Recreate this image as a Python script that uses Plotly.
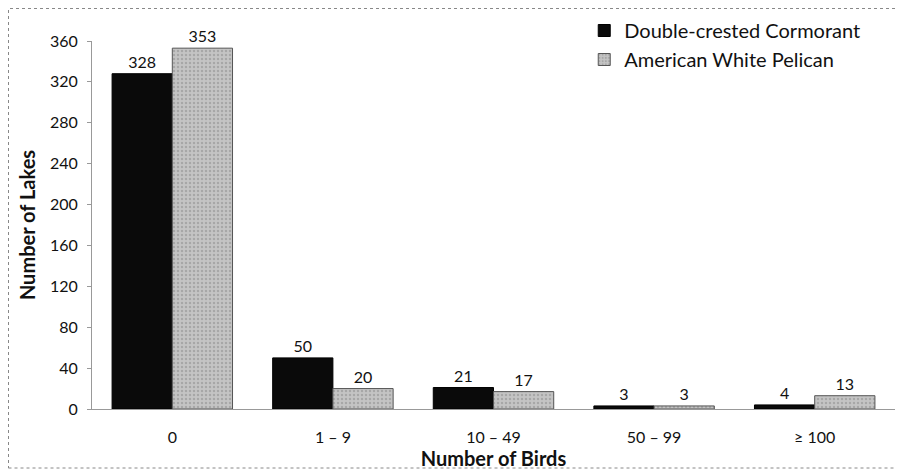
import plotly.graph_objects as go

categories = ["0", "1 – 9", "10 – 49", "50 – 99", "≥ 100"]
cormorant = [328, 50, 21, 3, 4]
pelican = [353, 20, 17, 3, 13]
y_ticks = [0, 40, 80, 120, 160, 200, 240, 280, 320, 360]

font_family = "Lato, 'Open Sans', 'DejaVu Sans', sans-serif"

fig = go.Figure()
fig.add_trace(go.Bar(
    x=categories, y=cormorant, name="Double-crested Cormorant",
    marker=dict(color="#0a0a0a", line=dict(color="#000000", width=1)),
    text=[str(v) for v in cormorant], textposition="outside",
    textfont=dict(size=16, color="#111111"), cliponaxis=False,
))
fig.add_trace(go.Bar(
    x=categories, y=pelican, name="American White Pelican",
    marker=dict(color="#c4c4c4", line=dict(color="#555555", width=1),
                pattern=dict(shape=".", fgcolor="#8a8a8a", size=4, solidity=0.3)),
    text=[str(v) for v in pelican], textposition="outside",
    textfont=dict(size=16, color="#111111"), cliponaxis=False,
))

# the page body adds an 8px offset; figure sized to fit the window
W, H = 896, 462
L, R, T, B = 84, 9, 33, 61
pw, ph = W - L - R, H - T - B

fig.update_layout(
    width=W, height=H,
    margin=dict(l=L, r=R, t=T, b=B, autoexpand=False),
    paper_bgcolor="white", plot_bgcolor="white",
    font=dict(family=font_family, size=16, color="#111111"),
    barmode="group", bargap=0.25, bargroupgap=0.0,
    showlegend=True,
    legend=dict(x=0.613, y=1.0815, xanchor="left", yanchor="top",
                font=dict(size=20, color="#111111"), bgcolor="rgba(0,0,0,0)",
                itemwidth=30, tracegroupgap=0),
    xaxis=dict(
        title=dict(text="<b>Number of Birds</b>", font=dict(size=20), standoff=2),
        showgrid=False, showline=True, linecolor="#999999", linewidth=1,
        ticks="outside", ticklen=14, tickcolor="rgba(0,0,0,0)",
        tickfont=dict(size=16), fixedrange=True, automargin=False,
    ),
    yaxis=dict(
        title=dict(text="<b>Number of Lakes</b>", font=dict(size=20), standoff=8),
        range=[0, 360], tickvals=y_ticks, showgrid=False,
        showline=True, linecolor="#999999", linewidth=1,
        ticks="outside", ticklen=4, tickcolor="#999999", ticklabelstandoff=6,
        tickfont=dict(size=16), zeroline=False, automargin=False,
    ),
)

# outer chart border
fig.add_shape(type="rect", xref="paper", yref="paper",
              x0=(0.5 - L) / pw, x1=(895 - L) / pw,
              y0=(H - B - 460) / ph, y1=(H - B - 0.5) / ph,
              line=dict(color="#888888", width=1, dash="dot"))

fig.write_html("out.html")
